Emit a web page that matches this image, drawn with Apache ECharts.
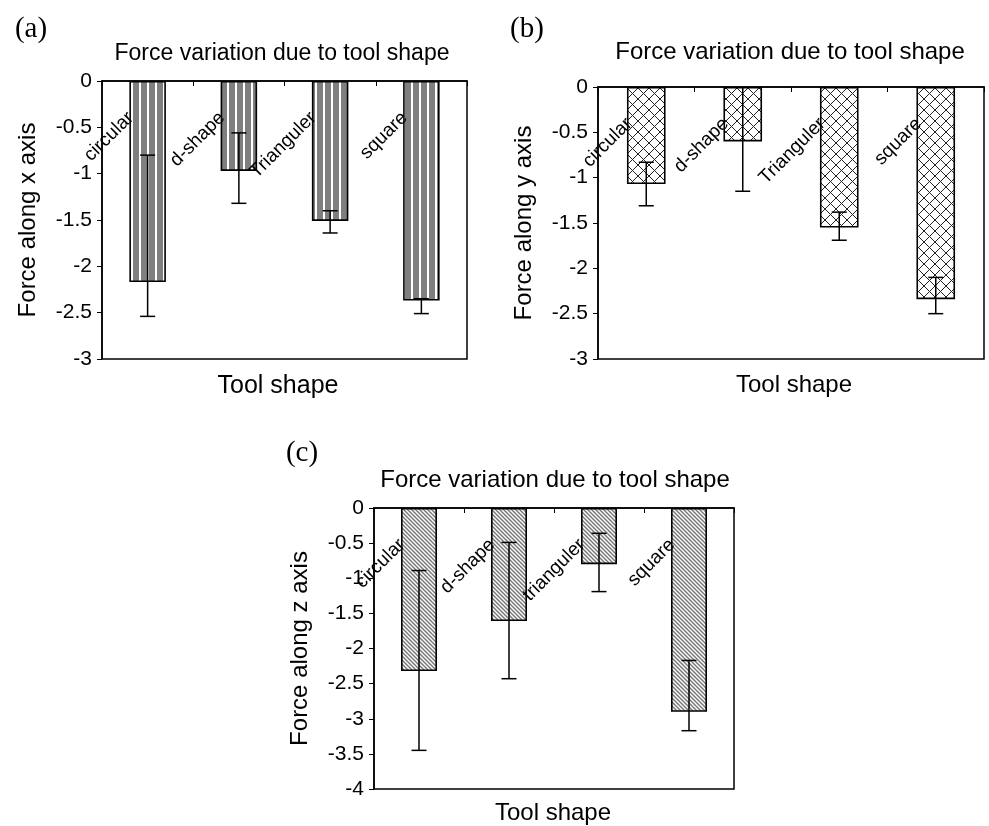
<!DOCTYPE html>
<html><head><meta charset="utf-8">
<script src="https://cdn.jsdelivr.net/npm/echarts@6/dist/echarts.min.js"></script>
<style>html,body{margin:0;padding:0;background:#fff}#c{width:989px;height:826px}</style>
</head><body><div id="c"></div><script>
// ---------------- data ----------------
const catsAB = ["circular", "d-shape", "Trianguler", "square"];
const catsC = ["circular", "d-shape", "trianguler", "square"];

const forceX = [-2.17, -0.97, -1.51, -2.37];
const errXHigh = [-0.80, -0.56, -1.40, -2.35];
const errXLow = [-2.54, -1.32, -1.64, -2.51];

const forceY = [-1.07, -0.60, -1.55, -2.34];
const errYHigh = [-0.83, 0.0, -1.38, -2.10];
const errYLow = [-1.31, -1.15, -1.69, -2.50];

const forceZ = [-2.32, -1.61, -0.80, -2.90];
const errZHigh = [-0.89, -0.49, -0.36, -2.17];
const errZLow = [-3.45, -2.43, -1.19, -3.17];

const yMinAB = -3, yMinC = -4, yMax = 0, yStep = 0.5;
const titleText = "Force variation due to tool shape";
const xName = "Tool shape";
const yNames = ["Force along x axis", "Force along y axis", "Force along z axis"];
const panelLabels = ["(a)", "(b)", "(c)"];

// ---------------- patterns ----------------
function makeTile(w, h, draw) {
  const c = document.createElement('canvas');
  c.width = w; c.height = h;
  draw(c.getContext('2d'), w, h);
  return { image: c, repeat: 'repeat' };
}
const patVert = makeTile(8, 10, (g, w, h) => {
  g.fillStyle = '#7f7f7f'; g.fillRect(0, 0, w, h);
  g.fillStyle = '#ffffff'; g.fillRect(3, 0, 2, h);
});
const patCross = makeTile(11, 11, (g, w, h) => {
  g.fillStyle = '#ffffff'; g.fillRect(0, 0, w, h);
  g.strokeStyle = '#222'; g.lineWidth = 1;
  g.beginPath();
  g.moveTo(-1, -1); g.lineTo(w + 1, h + 1);
  g.moveTo(w + 1, -1); g.lineTo(-1, h + 1);
  g.stroke();
});
const patDiag = makeTile(4, 4, (g, w, h) => {
  g.fillStyle = '#7a7a7a'; g.fillRect(0, 0, w, h);
  g.strokeStyle = '#ffffff'; g.lineWidth = 1.3;
  g.beginPath();
  for (const c of [-4, 0, 4]) { g.moveTo(-1, -1 + c); g.lineTo(w + 1, h + 1 + c); }
  g.stroke();
});

// ---------------- helpers ----------------
const FONT = 'Liberation Sans, Arial, sans-serif';
const grids = [
  { left: 102, top: 81, width: 365, height: 278 },
  { left: 598, top: 87, width: 386, height: 272 },
  { left: 374, top: 508, width: 360, height: 281 }
];
function xAxisFor(i, cats) {
  return {
    type: 'category', gridIndex: i, data: cats, position: 'top', z: 4,
    axisLine: { show: true, onZero: false, lineStyle: { color: '#000', width: 1.5 } },
    axisTick: { show: true, inside: true, length: 5, lineStyle: { color: '#000', width: 1 } },
    axisLabel: { show: true, inside: true, interval: 0, rotate: -45, margin: 17,
      align: 'right', verticalAlign: 'middle',
      padding: [0, 24, 0, 0], color: '#000', fontFamily: FONT, fontSize: 19 },
    splitLine: { show: false }
  };
}
function yAxisFor(i, min, name) {
  return {
    type: 'value', gridIndex: i, min: min, max: yMax, interval: yStep,
    name: name, nameLocation: 'middle', nameGap: 62,
    nameTextStyle: { color: '#000', fontFamily: FONT, fontSize: 24 },
    axisLine: { show: true, lineStyle: { color: '#000', width: 1.5 } },
    axisTick: { show: true, inside: false, length: 5, lineStyle: { color: '#000' } },
    axisLabel: { color: '#000', fontFamily: FONT, fontSize: 21, margin: 10 },
    splitLine: { show: false }
  };
}
function errRender(params, api) {
  const x = api.value(0);
  const hi = api.coord([x, api.value(1)]);
  const lo = api.coord([x, api.value(2)]);
  const hw = 7.5;
  const st = { stroke: '#000', lineWidth: 1.5 };
  return { type: 'group', children: [
    { type: 'line', shape: { x1: hi[0], y1: hi[1], x2: lo[0], y2: lo[1] }, style: st },
    { type: 'line', shape: { x1: hi[0] - hw, y1: hi[1], x2: hi[0] + hw, y2: hi[1] }, style: st },
    { type: 'line', shape: { x1: lo[0] - hw, y1: lo[1], x2: lo[0] + hw, y2: lo[1] }, style: st }
  ]};
}
function barSeries(i, vals, pat) {
  return { type: 'bar', xAxisIndex: i, yAxisIndex: i, data: vals, barWidth: '40%',
    itemStyle: { color: pat, borderColor: '#000', borderWidth: 1.6 }, z: 2, silent: true };
}
function errSeries(i, hi, lo) {
  return { type: 'custom', xAxisIndex: i, yAxisIndex: i, renderItem: errRender,
    data: hi.map((h, k) => [k, h, lo[k]]), encode: { x: 0, y: [1, 2] }, z: 5, silent: true, clip: true };
}
function txt(x, y, text, size, family) {
  return { type: 'text', x: x, y: y, silent: true,
    style: { text: text, fill: '#000', font: size + 'px ' + (family || FONT),
      textAlign: 'center', textVerticalAlign: 'middle' } };
}

const option = {
  backgroundColor: '#fff',
  animation: false,
  grid: grids.map(g => Object.assign({ show: true, borderColor: '#000', borderWidth: 1.5,
    backgroundColor: 'transparent' }, g)),
  xAxis: [xAxisFor(0, catsAB), xAxisFor(1, catsAB), xAxisFor(2, catsC)],
  yAxis: [yAxisFor(0, yMinAB, yNames[0]), yAxisFor(1, yMinAB, yNames[1]), yAxisFor(2, yMinC, yNames[2])],
  series: [
    barSeries(0, forceX, patVert), errSeries(0, errXHigh, errXLow),
    barSeries(1, forceY, patCross), errSeries(1, errYHigh, errYLow),
    barSeries(2, forceZ, patDiag), errSeries(2, errZHigh, errZLow)
  ],
  graphic: [
    txt(31, 29, panelLabels[0], 29, 'Liberation Serif, Times New Roman, serif'),
    txt(527, 29, panelLabels[1], 29, 'Liberation Serif, Times New Roman, serif'),
    txt(302, 453, panelLabels[2], 29, 'Liberation Serif, Times New Roman, serif'),
    txt(282, 54, titleText, 23),
    txt(790, 52, titleText, 24),
    txt(555, 480, titleText, 24),
    txt(278, 386, xName, 25),
    txt(794, 385, xName, 24),
    txt(553, 813, xName, 24)
  ]
};
const chart = echarts.init(document.getElementById('c'), null, { renderer: 'canvas' });
chart.setOption(option);
</script></body></html>
